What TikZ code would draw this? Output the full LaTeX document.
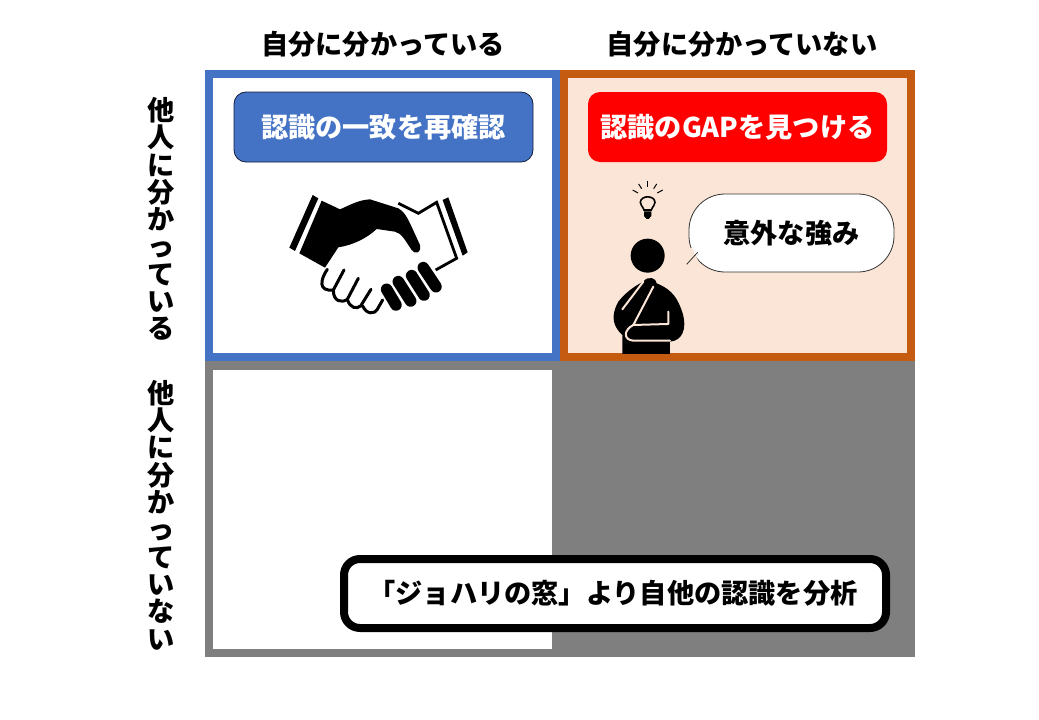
\documentclass[tikz,border=0pt]{standalone}
\usepackage{fontspec}
\setmainfont{Noto Sans CJK JP}
\definecolor{frameblue}{RGB}{68,114,196}
\definecolor{frameorange}{RGB}{197,90,17}
\definecolor{cellpeach}{RGB}{251,229,214}
\definecolor{cellgray}{RGB}{127,127,127}
\definecolor{boxred}{RGB}{255,0,0}
\definecolor{boxedge}{RGB}{20,30,60}
\begin{document}
\begin{tikzpicture}[
        x=1pt, y=-1pt,
        jptext/.style={font=\fontsize{27.2}{27.3}\selectfont\bfseries, align=center, inner sep=0pt},
        cell/.style={rectangle, line width=8pt, inner sep=0pt, minimum width=346.5pt, minimum height=283pt},
        headbox/.style={rectangle, jptext, text=white, rounded corners=12pt, minimum width=299pt, minimum height=70pt}
    ]
        \useasboundingbox (0,0) rectangle (1039,720);
        % lower row
        \fill[cellgray] (205,361) rectangle (915,657);
        \fill[white] (213,370) rectangle (552,649);
        % upper row
        \node[cell, draw=frameblue, fill=white] (known) at (382.25,215.5) {};
        \node[cell, draw=frameorange, fill=cellpeach] (gap) at (737.4,215.5) {};
        % axis labels
        \node[jptext] (selfknown) at (383,44) {自分に分かっている};
        \node[jptext] (selfunknown) at (742,44) {自分に分かっていない};
        \node[jptext] (otherknown) at (161,219) {他\\人\\に\\分\\か\\っ\\て\\い\\る};
        \node[jptext] (otherunknown) at (161,515) {他\\人\\に\\分\\か\\っ\\て\\い\\な\\い};
        % head boxes
        \node[headbox, draw=boxedge, line width=0.8pt, fill=frameblue] (agree) at (383.5,127) {認識の一致を再確認};
        \node[headbox, fill=boxred] (findgap) at (737.5,127) {認識のGAPを見つける};
        % speech bubble
        \node[rectangle, draw=black!80, line width=0.8pt, fill=white, jptext, rounded corners=36pt, minimum width=205pt, minimum height=78pt] (bubble) at (791.5,233) {意外な強み};
        \fill[cellpeach] (685,247) -- (692,248) -- (699.5,263.5) -- (685,265) -- cycle;
        \draw[black!80, line width=0.8pt] (697.7,252.3) -- (686.7,264.3);
        % summary box
        \node[rectangle, draw=black, fill=white, jptext, line width=8pt, rounded corners=16pt, minimum width=542pt, minimum height=69pt] (summary) at (615,593.5) {\hspace*{-4pt}「ジョハリの窓」より自他の認識を分析};
        % handshake
        \begin{scope}[shift={(270,170)}, x=0.3333pt, y=-0.3333pt]
            \fill (128,75) -- (145,85) -- (75,243) -- (58,233) -- cycle;
            \fill (535,82) -- (518,90) -- (578,257) -- (593,247) -- cycle;
            \fill (155,92) -- (210,118) .. controls (240,105) and (265,90) .. (300,88)
                -- (385,115) .. controls (410,130) and (415,150) .. (450,225)
                .. controls (455,250) and (435,255) .. (425,240)
                .. controls (405,210) and (395,190) .. (375,185) -- (320,177)
                .. controls (290,205) and (250,225) .. (205,232) -- (165,293) -- (88,250) -- cycle;
            \draw[line width=2.8pt, line join=miter] (385,100) -- (445,130) -- (500,97) -- (560,265) -- (497,300);
            \draw[line width=3pt, line cap=round] (172,298) .. controls (150,330) and (145,365) .. (190,360) -- (222,300);
            \draw[line width=3pt, line cap=round] (190,360) .. controls (190,395) and (215,400) .. (232,388) -- (265,325);
            \draw[line width=3pt, line cap=round] (232,388) .. controls (240,415) and (260,418) .. (272,408) -- (303,358);
            \draw[line width=3pt, line cap=round] (278,408) .. controls (290,435) and (315,432) .. (322,418) -- (338,390);
            \draw[line width=11.6pt, line cap=round] (350,358) -- (378,405);
            \draw[line width=11.6pt, line cap=round] (385,335) -- (422,393);
            \draw[line width=11.6pt, line cap=round] (425,317) -- (462,375);
            \draw[line width=11.6pt, line cap=round] (460,293) -- (498,350);
        \end{scope}
        % person with bulb
        \begin{scope}[shift={(590,170)}, x=0.3333pt, y=-0.3333pt]
            \fill (173,257) circle (17pt);
            \draw[line width=1.6pt] (162,120) .. controls (158,108) and (150,105) .. (151,97)
                .. controls (152,75) and (194,75) .. (195,97)
                .. controls (196,105) and (188,108) .. (184,120) -- cycle;
            \fill (162,124) -- (184,124) -- (184,138) -- (176,147) -- (170,147) -- (162,138) -- cycle;
            \draw[line width=1pt] (173,34) -- (173,52);
            \draw[line width=1pt] (146,42) -- (155,56);
            \draw[line width=1pt] (200,42) -- (191,56);
            \draw[line width=1pt] (128,60) -- (144,69);
            \draw[line width=1pt] (218,60) -- (202,69);
            \fill (97,552) -- (97,495) .. controls (70,470) and (60,440) .. (85,395)
                .. controls (105,370) and (130,350) .. (160,335)
                .. controls (175,315) and (200,325) .. (200,340)
                .. controls (250,360) and (265,390) .. (278,430)
                .. controls (292,480) and (275,512) .. (240,515) -- (240,552) -- cycle;
            \draw[cellpeach, line width=2pt, line cap=round] (97,418) -- (160,335);
            \draw[cellpeach, line width=2pt, line cap=round, line join=round] (190,350) -- (130,465) -- (235,462) -- (235,425);
            \draw[cellpeach, line width=2pt, line cap=round] (130,465) .. controls (100,480) and (100,510) .. (130,512) -- (240,512);
        \end{scope}
    \end{tikzpicture}
\end{document}
